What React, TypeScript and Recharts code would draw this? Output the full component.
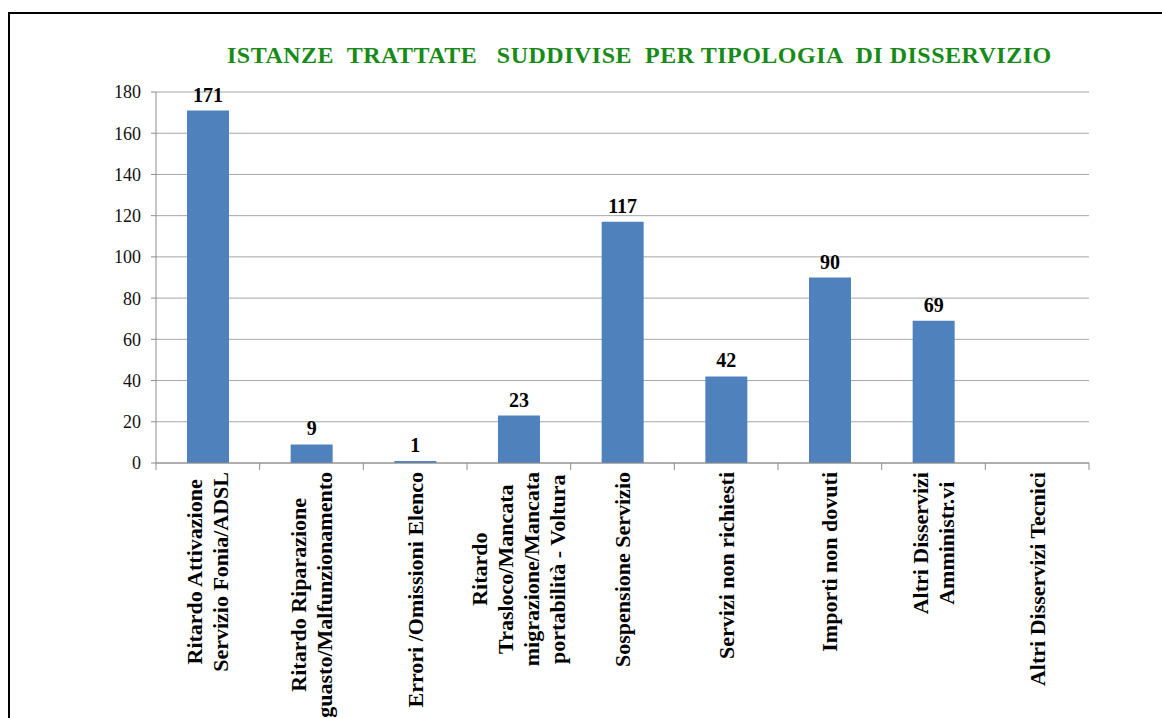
import { BarChart, Bar, XAxis, YAxis, CartesianGrid, LabelList } from 'recharts';

const SERIF = "'Liberation Serif', 'Times New Roman', 'DejaVu Serif', serif";

const CATEGORIES = [
  'Ritardo Attivazione\nServizio Fonia/ADSL',
  'Ritardo Riparazione\nguasto/Malfunzionamento',
  'Errori /Omissioni Elenco',
  'Ritardo\nTrasloco/Mancata\nmigrazione/Mancata\nportabilità - Voltura',
  'Sospensione Servizio',
  'Servizi non richiesti',
  'Importi non dovuti',
  'Altri Disservizi\nAmministr.vi',
  'Altri Disservizi Tecnici',
];

const VALUES = [171, 9, 1, 23, 117, 42, 90, 69, 0];

const Y_TICKS = [0, 20, 40, 60, 80, 100, 120, 140, 160, 180];

const chartData = CATEGORIES.map((name, i) => ({ name, value: VALUES[i] }));

const LABEL_FONT = `bold 22px ${SERIF}`;
const LINE_H = 26;
const CAP_H = 15;

let measureCtx: CanvasRenderingContext2D | null = null;
const measure = (s: string) => {
  if (!measureCtx) measureCtx = document.createElement('canvas').getContext('2d');
  if (!measureCtx) return s.length * 10;
  measureCtx.font = LABEL_FONT;
  return measureCtx.measureText(s).width;
};

const CategoryTick = (props: any) => {
  const { x, y, payload, index, width, visibleTicksCount } = props;
  const count = visibleTicksCount || CATEGORIES.length;
  const bw = width / count;
  const lines = String(payload.value).split('\n');
  const maxLen = Math.max(...lines.map(measure));
  const top = y + 9;
  const cy = top + maxLen / 2;
  const first = x - ((lines.length - 1) * LINE_H - CAP_H) / 2;
  return (
    <g>
      <line x1={x - bw / 2} y1={y} x2={x - bw / 2} y2={y + 7} stroke="#8c8c8c" />
      {index === count - 1 && (
        <line x1={x + bw / 2} y1={y} x2={x + bw / 2} y2={y + 7} stroke="#8c8c8c" />
      )}
      {lines.map((ln, i) => {
        const bx = first + i * LINE_H;
        return (
          <text
            key={i}
            x={bx}
            y={cy}
            transform={`rotate(-90, ${bx}, ${cy})`}
            textAnchor="middle"
            fontFamily={SERIF}
            fontWeight="bold"
            fontSize={22}
            fill="#000"
          >
            {ln}
          </text>
        );
      })}
    </g>
  );
};

export default function App() {
  return (
    <div style={{ position: 'absolute', left: 8, top: 8, width: 1154, height: 710, overflow: 'hidden' }}>
      <div
        style={{
          position: 'absolute',
          left: 0,
          top: 4,
          width: 1160,
          height: 720,
          borderTop: '2px solid #000',
          borderLeft: '2px solid #000',
        }}
      />
      <div
        style={{
          position: 'absolute',
          left: 219,
          top: 34,
          fontFamily: SERIF,
          fontWeight: 'bold',
          fontSize: 24,
          letterSpacing: 0.5,
          color: '#178a17',
          whiteSpace: 'pre',
        }}
      >
        {'ISTANZE  TRATTATE   SUDDIVISE  PER TIPOLOGIA  DI DISSERVIZIO'}
      </div>
      <div style={{ position: 'absolute', left: 0, top: 0 }}>
        <BarChart
          width={1154}
          height={710}
          data={chartData}
          margin={{ top: 84, right: 73, bottom: 0, left: 0 }}
        >
          <CartesianGrid vertical={false} stroke="#a6a6a6" />
          <XAxis
            dataKey="name"
            interval={0}
            height={255}
            tickSize={0}
            tickMargin={0}
            tickLine={false}
            axisLine={{ stroke: '#8c8c8c' }}
            tick={<CategoryTick />}
          />
          <YAxis
            domain={[0, 180]}
            ticks={Y_TICKS}
            width={148}
            tickSize={5}
            tickMargin={10}
            axisLine={{ stroke: '#8c8c8c' }}
            tickLine={{ stroke: '#8c8c8c' }}
            tick={{ fill: '#111', fontSize: 18, fontFamily: SERIF }}
          />
          <Bar dataKey="value" fill="#4f81bd" barSize={42} isAnimationActive={false}>
            <LabelList
              dataKey="value"
              position="top"
              offset={9}
              formatter={(v: any) => (v ? v : '')}
              style={{ fontFamily: SERIF, fontWeight: 'bold', fontSize: 20, fill: '#000' }}
            />
          </Bar>
        </BarChart>
      </div>
    </div>
  );
}
